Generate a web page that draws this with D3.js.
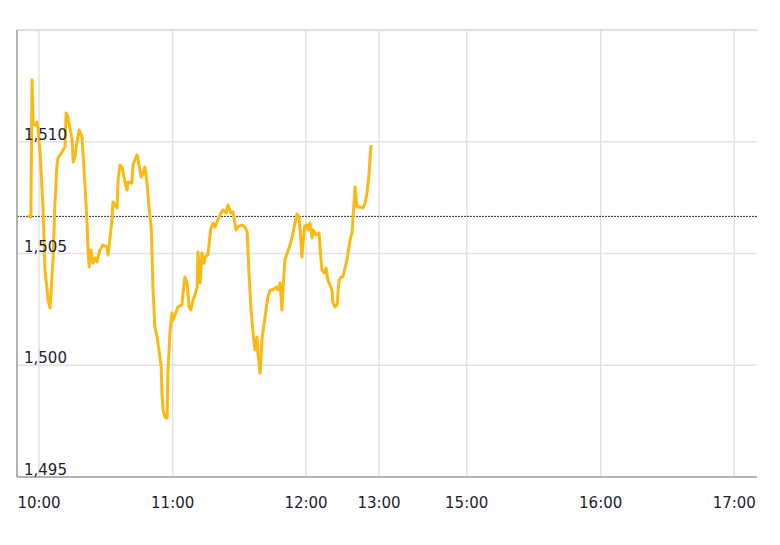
<!DOCTYPE html>
<html>
<head>
<meta charset="utf-8">
<script src="https://cdn.jsdelivr.net/npm/d3@7"></script>
<style>
  body { margin: 0; background: #fff; }
  svg text { font-family: "DejaVu Sans", Verdana, sans-serif; font-size: 15px; fill: #1a1e2e; }
</style>
</head>
<body>
<div id="chart-area"></div>
<script>
// intraday price
var times = [
  "09:55:00","09:56:20","09:56:50","09:57:20","09:58:10","09:59:10","09:59:30","10:00:30","10:01:50","10:02:40",
  "10:03:40","10:04:00","10:05:00","10:06:20","10:07:10","10:08:00","10:08:30","10:10:20","10:10:50","10:11:40",
  "10:12:10","10:13:00","10:13:50","10:14:50","10:15:20","10:16:10","10:17:00","10:18:00","10:19:20","10:19:50",
  "10:20:40","10:21:30","10:22:00","10:22:30","10:23:20","10:24:10","10:25:10","10:26:00","10:27:20","10:28:40",
  "10:30:30","10:31:00","10:32:50","10:33:10","10:35:00","10:35:30","10:36:20","10:37:20","10:38:40","10:39:30",
  "10:40:00","10:41:40","10:42:10","10:44:00","10:44:30","10:45:50","10:46:40","10:47:30","10:48:30","10:49:20",
  "10:50:20","10:50:40","10:51:10","10:52:00","10:53:00","10:53:50","10:54:50","10:55:10","10:55:40","10:56:30",
  "10:57:30","10:57:50","10:58:50","10:59:40","11:00:10","11:01:00","11:02:20","11:04:10","11:04:40","11:05:30",
  "11:06:30","11:07:20","11:08:10","11:09:10","11:10:00","11:11:00","11:11:20","11:12:20","11:13:10","11:14:10",
  "11:14:30","11:15:50","11:17:10","11:18:10","11:19:00","11:20:00","11:20:20","11:21:40","11:22:40","11:24:00",
  "11:24:50","11:26:10","11:27:10","11:28:30","11:29:20","11:31:10","11:32:30","11:33:30","11:34:20","11:35:10",
  "11:36:10","11:37:00","11:38:00","11:38:20","11:39:20","11:40:10","11:41:10","11:42:00","11:42:50","11:43:50",
  "11:45:10","11:46:30","11:47:20","11:48:20","11:49:10","11:49:40","11:50:30","11:51:30","11:52:50","11:54:10",
  "11:55:00","11:56:00","11:56:50","11:57:20","11:58:10","11:59:10","11:59:30","12:00:50","12:01:40","12:03:20",
  "12:05:00","12:05:50","12:08:10","12:10:40","12:12:20","12:13:10","12:14:50","12:16:30","12:18:00","12:21:20",
  "12:22:10","12:23:50","12:25:30","12:27:10","12:28:50","12:30:20","12:33:40","12:36:10","12:37:50","12:38:40",
  "12:40:20","12:41:10","12:41:50","12:44:20","12:46:50","12:48:30","12:50:10","12:51:50","12:52:40","12:53:30"
];
var prices = [
  1506.68,1506.63,1512.76,1510.84,1510.75,1510.88,1510.62,1509.50,1506.95,1504.26,
  1503.37,1502.92,1502.56,1504.84,1507.26,1508.87,1509.27,1509.54,1509.63,1509.77,
  1511.29,1511.11,1510.66,1510.08,1509.09,1509.32,1509.94,1510.53,1510.21,1509.32,
  1507.98,1506.50,1505.16,1504.40,1505.16,1504.57,1504.80,1504.62,1505.16,1505.38,
  1505.29,1504.93,1506.59,1507.30,1507.04,1508.29,1508.96,1508.87,1508.15,1507.84,
  1508.20,1508.15,1508.96,1509.41,1509.18,1508.42,1508.60,1508.87,1508.15,1507.08,
  1506.19,1505.16,1503.37,1501.71,1501.26,1500.68,1499.92,1498.76,1498.00,1497.68,
  1497.64,1499.65,1501.58,1502.34,1502.02,1502.25,1502.61,1502.70,1503.23,1503.95,
  1503.68,1502.61,1502.47,1502.92,1503.14,1503.50,1505.07,1503.68,1505.02,1504.57,
  1504.84,1504.93,1506.14,1506.36,1506.19,1506.41,1506.50,1506.81,1506.95,1506.81,
  1507.17,1506.81,1506.86,1506.05,1506.19,1506.28,1506.19,1505.96,1504.13,1502.61,
  1501.44,1500.68,1501.26,1500.55,1499.65,1501.13,1501.89,1502.47,1503.05,1503.37,
  1503.37,1503.50,1503.37,1503.68,1502.47,1503.46,1504.71,1505.02,1505.38,1505.92,
  1506.36,1506.77,1506.63,1506.05,1504.84,1506.05,1506.23,1506.28,1506.05,1506.36,
  1505.69,1506.05,1505.83,1505.92,1504.71,1504.26,1504.13,1504.35,1503.81,1503.37,
  1502.79,1502.61,1502.70,1503.81,1503.95,1503.95,1504.71,1505.60,1505.92,1506.63,
  1507.98,1507.53,1507.08,1507.08,1507.04,1507.26,1507.71,1508.60,1509.32,1509.85
];
var prevClose = 1506.66;

var xTickHours = [10, 11, 12, 13, 15, 16, 17];
var xTickLabels = ["10:00", "11:00", "12:00", "13:00", "15:00", "16:00", "17:00"];
var yTicks = [1495, 1500, 1505, 1510];

var margin = {top: 30, right: 23, bottom: 68, left: 17};
var width = 780 - margin.left - margin.right;
var height = 545 - margin.top - margin.bottom;

function toHours(s) {
  var p = s.split(":");
  return +p[0] + p[1] / 60 + p[2] / 3600;
}

var data = times.map(function(t, i) {
  return {h: toHours(t), price: prices[i]};
});

// the axis is not linear in time: each hour gets its own stretch
var x = d3.scaleLinear()
  .domain([9.835, 10, 11, 12, 13, 15, 16, 17, 17.168])
  .range([0, 22, 155.7, 289, 362, 449.7, 583.7, 717.3, width]);

var y = d3.scaleLinear()
  .domain([1495, 1515])
  .range([height, 0]);

var svg = d3.select("#chart-area")
  .append("svg")
  .attr("width", 780)
  .attr("height", 545);

var g = svg.append("g")
  .attr("transform", "translate(" + margin.left + "," + margin.top + ")");

// top border
g.append("line")
  .attr("x1", 0).attr("x2", width)
  .attr("y1", 0).attr("y2", 0)
  .attr("stroke", "#e0e0e0")
  .attr("stroke-width", 2);

// horizontal grid
g.selectAll(".hgrid")
  .data(yTicks.filter(function(d) { return d > 1495; }))
  .enter().append("line")
  .attr("class", "hgrid")
  .attr("x1", 0).attr("x2", width)
  .attr("y1", function(d) { return y(d); })
  .attr("y2", function(d) { return y(d); })
  .attr("stroke", "#e2e2e2")
  .attr("stroke-width", 1.5);

// vertical grid
g.selectAll(".vgrid")
  .data(xTickHours)
  .enter().append("line")
  .attr("class", "vgrid")
  .attr("x1", function(d) { return x(d); })
  .attr("x2", function(d) { return x(d); })
  .attr("y1", 0).attr("y2", height)
  .attr("stroke", "#e2e2e2")
  .attr("stroke-width", 1.5);

// previous close
g.append("line")
  .attr("x1", 0).attr("x2", width)
  .attr("y1", y(prevClose)).attr("y2", y(prevClose))
  .attr("stroke", "#333")
  .attr("stroke-width", 1)
  .attr("stroke-dasharray", "2,1");

// price line
var line = d3.line()
  .x(function(d) { return x(d.h); })
  .y(function(d) { return y(d.price); });

g.append("path")
  .datum(data)
  .attr("fill", "none")
  .attr("stroke", "#fbb914")
  .attr("stroke-width", 3)
  .attr("stroke-linejoin", "round")
  .attr("d", line);

// axes lines
g.append("line")
  .attr("x1", 0).attr("x2", 0)
  .attr("y1", 0).attr("y2", height)
  .attr("stroke", "#9a9a9a")
  .attr("stroke-width", 1.5);

g.append("line")
  .attr("x1", 0).attr("x2", width)
  .attr("y1", height).attr("y2", height)
  .attr("stroke", "#9a9a9a")
  .attr("stroke-width", 1.5);

// y labels sit inside the plot, just above their grid line
g.selectAll(".y-label")
  .data(yTicks)
  .enter().append("text")
  .attr("class", "y-label")
  .attr("x", 7)
  .attr("y", function(d) { return y(d) - 2; })
  .text(function(d) { return d3.format(",")(d); });

// x labels
g.selectAll(".x-label")
  .data(xTickHours)
  .enter().append("text")
  .attr("class", "x-label")
  .attr("text-anchor", "middle")
  .attr("x", function(d) { return x(d); })
  .attr("y", height + 31)
  .text(function(d, i) { return xTickLabels[i]; });
</script>
</body>
</html>
